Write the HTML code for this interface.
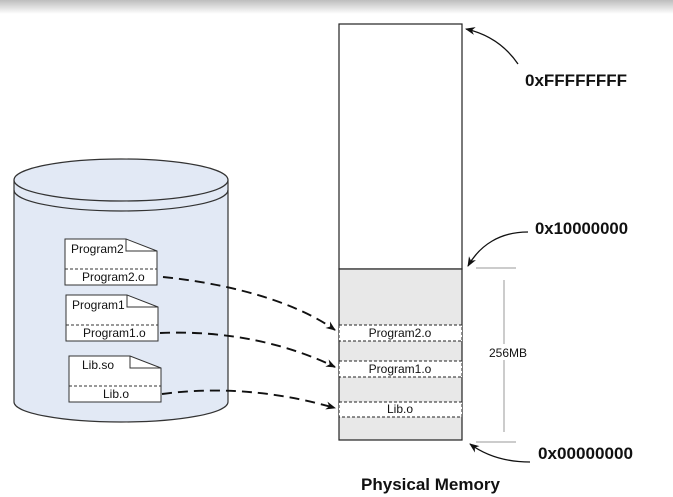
<!DOCTYPE html>
<html><head><style>
html,body{margin:0;padding:0;background:#fff;}
body{width:673px;height:497px;overflow:hidden;position:relative;font-family:"Liberation Sans",sans-serif;}
.top{position:absolute;left:0;top:0;width:673px;height:14px;background:linear-gradient(#bdbdbd,#fff);}
</style></head><body>
<div class="top"></div>
<svg width="673" height="497" style="position:absolute;left:0;top:0" font-family="Liberation Sans, sans-serif">
<defs>
<marker id="ah" markerWidth="10" markerHeight="8" refX="9" refY="4" orient="auto" markerUnits="userSpaceOnUse">
<path d="M0,0 L10,4 L0,8 L3,4 Z" fill="#111"/></marker>
</defs>
<path d="M14,180 L14,402 A107,20 0 0 0 228,402 L228,180" fill="#e2e9f5" stroke="#333" stroke-width="1.2"/>
<ellipse cx="121" cy="180" rx="107" ry="21" fill="#e2e9f5" stroke="#333" stroke-width="1.2"/>
<path d="M14,190 A107,21 0 0 0 228,190" fill="none" stroke="#333" stroke-width="1.2"/>
<g stroke="#333" stroke-width="1" fill="#fff">
<path d="M65,239 L126,239 L157,251 L157,285 L65,285 Z"/><path d="M126,239 L126,251 L157,251" fill="none"/>
<line x1="65" y1="269" x2="157" y2="269" stroke-dasharray="3,2"/>
<path d="M66,295 L127,295 L158,307 L158,341 L66,341 Z"/><path d="M127,295 L127,307 L158,307" fill="none"/>
<line x1="66" y1="325" x2="158" y2="325" stroke-dasharray="3,2"/>
<path d="M69,356 L130,356 L161,368 L161,402 L69,402 Z"/><path d="M130,356 L130,368 L161,368" fill="none"/>
<line x1="69" y1="386" x2="161" y2="386" stroke-dasharray="3,2"/>
</g>
<g font-size="12" fill="#111">
<text x="71" y="253">Program2</text><text x="82" y="281">Program2.o</text>
<text x="72" y="309">Program1</text><text x="83" y="337">Program1.o</text>
<text x="82" y="369">Lib.so</text><text x="103" y="398">Lib.o</text>
</g>
<rect x="339" y="24" width="123" height="245" fill="#fff" stroke="#222" stroke-width="1.2"/>
<rect x="339" y="269" width="123" height="171" fill="#e8e8e8" stroke="#222" stroke-width="1.2"/>
<g fill="#fff" stroke="#222" stroke-dasharray="3,2">
<rect x="339" y="325" width="123" height="16"/>
<rect x="339" y="361" width="123" height="16"/>
<rect x="339" y="402" width="123" height="15"/>
</g>
<g font-size="12" fill="#111" text-anchor="middle">
<text x="400" y="337">Program2.o</text><text x="400" y="373">Program1.o</text><text x="400" y="413">Lib.o</text>
</g>
<g stroke="#999" stroke-width="1">
<line x1="476" y1="268" x2="516" y2="268"/><line x1="476" y1="442" x2="516" y2="442"/>
<line x1="504" y1="280" x2="504" y2="432"/>
</g>
<rect x="488" y="344" width="34" height="16" fill="#fff"/>
<text x="489" y="357" font-size="12" fill="#111">256MB</text>
<g fill="none" stroke="#111" stroke-width="1.9" stroke-dasharray="10,6" marker-end="url(#ah)">
<path d="M163,277 C240,285 300,305 335,330"/>
<path d="M160,333 C230,330 290,345 335,367"/>
<path d="M162,394 C230,385 290,395 335,408"/>
</g>
<g fill="none" stroke="#111" stroke-width="1.3" marker-end="url(#ah)">
<path d="M518,64 C505,45 488,34 466,29"/>
<path d="M528,232 C500,232 480,245 468,266"/>
<path d="M530,462 C505,462 485,455 470,444"/>
</g>
<g font-size="16.5" font-weight="bold" fill="#111">
<text x="525" y="86" textLength="102" lengthAdjust="spacingAndGlyphs">0xFFFFFFFF</text>
<text x="535" y="234" textLength="93" lengthAdjust="spacingAndGlyphs">0x10000000</text>
<text x="538" y="459" textLength="95" lengthAdjust="spacingAndGlyphs">0x00000000</text>
<text x="361" y="490" textLength="139" lengthAdjust="spacingAndGlyphs">Physical Memory</text>
</g>
</svg>
</body></html>
